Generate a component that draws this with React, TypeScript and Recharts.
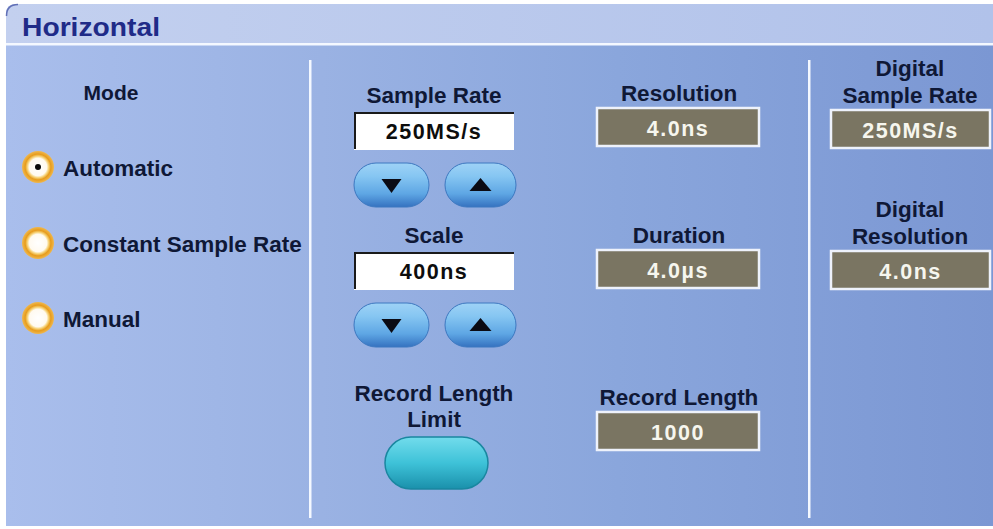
import { ComposedChart, Customized } from 'recharts';

// panel text content
const title = 'Horizontal';
const modeHeading = 'Mode';
const modes = ['Automatic', 'Constant Sample Rate', 'Manual'];
const selectedMode = 'Automatic';
const controlLabels = ['Sample Rate', 'Scale'];
const controlValues = ['250MS/s', '400ns'];
const limitLabel = ['Record Length', 'Limit'];
const readoutLabels = [['Resolution'], ['Duration'], ['Record Length']];
const readoutValues = ['4.0ns', '4.0\u00b5s', '1000'];
const digitalLabels = [['Digital', 'Sample Rate'], ['Digital', 'Resolution']];
const digitalValues = ['250MS/s', '4.0ns'];

const W = 993;
const H = 529;
const FONT = '"Liberation Sans", Arial, sans-serif';
const LABEL = '#0f1836';

// layout
const radioY = [167, 243, 318];
const controlTop = [103, 243];
const readoutTop = [101, 243, 405];
const digitalTop = [[76, 103], [217, 244]];

function Label({ x, y, text }: { x: number; y: number; text: string }) {
  return (
    <text x={x} y={y} textAnchor="middle" fontFamily={FONT} fontWeight="bold" fontSize={22.5} fill={LABEL}>
      {text}
    </text>
  );
}

function GreyBox({ x, y, w, h, value }: { x: number; y: number; w: number; h: number; value: string }) {
  return (
    <g>
      <rect x={x} y={y} width={w} height={h} fill="#7a7562" stroke="#eef2fb" strokeWidth={2.5} />
      <text x={x + w / 2} y={y + h - 10} textAnchor="middle" fontFamily={FONT} fontWeight="bold" fontSize={21.5}
        letterSpacing={1.5} fill="#f6f6ee">
        {value}
      </text>
    </g>
  );
}

function Pill({ x, y, w, h, up }: { x: number; y: number; w: number; h: number; up: boolean }) {
  const cx = x + w / 2;
  const cy = y + h / 2;
  const tri = up
    ? `${cx - 11},${cy + 6} ${cx + 11},${cy + 6} ${cx},${cy - 7}`
    : `${cx - 10},${cy - 6} ${cx + 10},${cy - 6} ${cx},${cy + 8}`;
  return (
    <g>
      <rect x={x} y={y} width={w} height={h} rx={h / 2} fill="url(#pillGrad)" stroke="#3d78c0" strokeWidth={1} />
      <polygon points={tri} fill="#0b0b14" />
    </g>
  );
}

function Panel() {
  return (
    <g>
      <defs>
        <linearGradient id="bodyGrad" x1="0" y1="0" x2="1" y2="0">
          <stop offset="0%" stopColor="#a9beec" />
          <stop offset="32%" stopColor="#9ab2e3" />
          <stop offset="62%" stopColor="#8aa6dc" />
          <stop offset="100%" stopColor="#7b97d3" />
        </linearGradient>
        <linearGradient id="titleGrad" x1="0" y1="0" x2="1" y2="0">
          <stop offset="0%" stopColor="#c3d0ef" />
          <stop offset="100%" stopColor="#b1c2ea" />
        </linearGradient>
        <linearGradient id="pillGrad" x1="0" y1="0" x2="0" y2="1">
          <stop offset="0%" stopColor="#9ed2f6" />
          <stop offset="30%" stopColor="#86c6f2" />
          <stop offset="70%" stopColor="#5ea6e4" />
          <stop offset="100%" stopColor="#3572c0" />
        </linearGradient>
        <linearGradient id="tealGrad" x1="0" y1="0" x2="0" y2="1">
          <stop offset="0%" stopColor="#72dcec" />
          <stop offset="50%" stopColor="#3ec2d8" />
          <stop offset="100%" stopColor="#1a90ab" />
        </linearGradient>
        <radialGradient id="radioGrad" cx="0.5" cy="0.5" r="0.5">
          <stop offset="0%" stopColor="#ffffff" />
          <stop offset="55%" stopColor="#fffaf0" />
          <stop offset="66%" stopColor="#f7d680" />
          <stop offset="80%" stopColor="#e79c1c" />
          <stop offset="100%" stopColor="#efb850" />
        </radialGradient>
      </defs>

      <rect x={0} y={0} width={W} height={H} fill="#ffffff" />
      <path d={`M6,${H - 3} L6,14 Q6,4 16,4 L${W},4 L${W},${H - 3} Z`} fill="url(#bodyGrad)" />
      <path d={`M6,44 L6,14 Q6,4 16,4 L${W},4 L${W},44 Z`} fill="url(#titleGrad)" />
      <path d="M6.5,16 Q6.5,4.5 18,4.5" fill="none" stroke="#6170b6" strokeWidth={1.5} />
      <rect x={6} y={43} width={W - 6} height={2.5} fill="#f4f8ff" />
      <text x={22} y={36} fontFamily={FONT} fontWeight="bold" fontSize={26} fill="#1f2b88" textLength={138}
        lengthAdjust="spacingAndGlyphs">
        {title}
      </text>

      <rect x={309} y={60} width={2.5} height={458} fill="#f4f8ff" />
      <rect x={808} y={60} width={2.5} height={458} fill="#f4f8ff" />

      <text x={111} y={100} textAnchor="middle" fontFamily={FONT} fontWeight="bold" fontSize={21} fill={LABEL}>
        {modeHeading}
      </text>
      {modes.map((m, i) => (
        <g key={m}>
          <circle cx={38} cy={radioY[i]} r={16} fill="url(#radioGrad)" />
          {m === selectedMode && <circle cx={38} cy={radioY[i]} r={3} fill="#0a0a0a" />}
          <text x={63} y={radioY[i] + 9} fontFamily={FONT} fontWeight="bold" fontSize={22.5} fill={LABEL}>
            {m}
          </text>
        </g>
      ))}

      {controlLabels.map((l, i) => {
        const t = controlTop[i];
        return (
          <g key={l}>
            <Label x={434} y={t} text={l} />
            <rect x={354} y={t + 9} width={160} height={38} fill="#ffffff" />
            <path d={`M355,${t + 46} L355,${t + 10} L514,${t + 10}`} fill="none" stroke="#1a1a1a" strokeWidth={2} />
            <text x={434} y={t + 36} textAnchor="middle" fontFamily={FONT} fontWeight="bold" fontSize={21.5}
              letterSpacing={1.5} fill="#0d0d0d">
              {controlValues[i]}
            </text>
            <Pill x={354} y={t + 60} w={75} h={44} up={false} />
            <Pill x={445} y={t + 60} w={71} h={44} up={true} />
          </g>
        );
      })}

      <Label x={434} y={401} text={limitLabel[0]} />
      <Label x={434} y={427} text={limitLabel[1]} />
      <rect x={385} y={437} width={103} height={52} rx={26} fill="url(#tealGrad)" stroke="#1a87a0" strokeWidth={1.5} />

      {readoutLabels.map((lines, i) => (
        <g key={lines.join()}>
          <Label x={679} y={readoutTop[i]} text={lines[0]} />
          <GreyBox x={597} y={readoutTop[i] + 7} w={162} h={38} value={readoutValues[i]} />
        </g>
      ))}

      {digitalLabels.map((lines, i) => (
        <g key={lines.join()}>
          {lines.map((ln, j) => (
            <Label key={ln} x={910} y={digitalTop[i][j]} text={ln} />
          ))}
          <GreyBox x={831} y={digitalTop[i][1] + 7} w={159} h={38} value={digitalValues[i]} />
        </g>
      ))}
    </g>
  );
}

export default function App() {
  return (
    <div style={{ position: 'absolute', left: 0, top: 0, width: W, height: H }}>
      <ComposedChart width={W} height={H} data={readoutValues.map((v) => ({ v }))} margin={{ top: 0, right: 0, bottom: 0, left: 0 }}>
        <Customized component={<Panel />} />
      </ComposedChart>
    </div>
  );
}
